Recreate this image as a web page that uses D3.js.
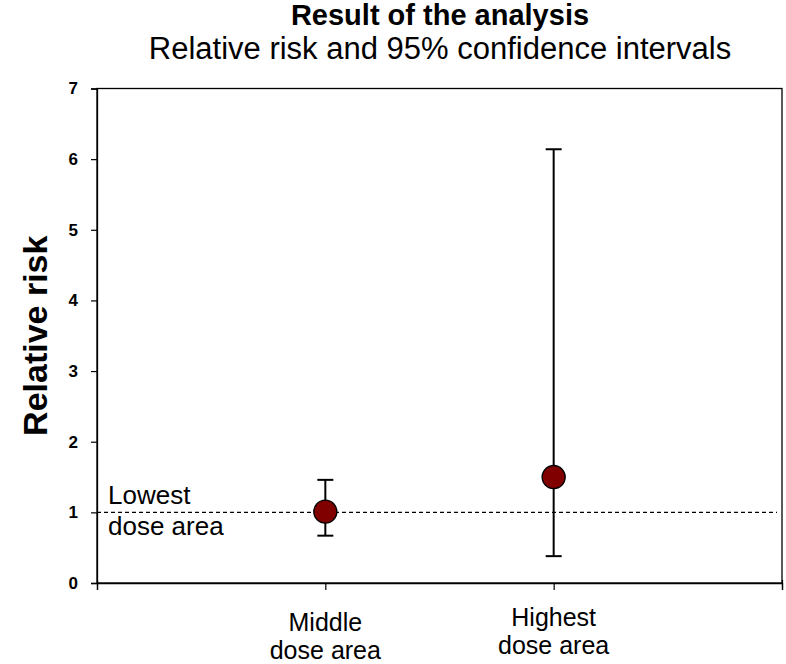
<!DOCTYPE html>
<html>
<head>
<meta charset="utf-8">
<script src="https://cdn.jsdelivr.net/npm/d3@7"></script>
<style>
  html, body { margin: 0; padding: 0; background: #fff; }
  svg { display: block; font-family: "Liberation Sans", Arial, sans-serif; }
</style>
</head>
<body>
<svg id="chart" width="786" height="664"></svg>
<script>
// ---- data ----
const categories = ["Middle dose area", "Highest dose area"];
const categoryLines = [["Middle", "dose area"], ["Highest", "dose area"]];
const categoryPos = [1, 2];
const relativeRisk = [1.01, 1.50];
const ciLower = [0.67, 0.38];
const ciUpper = [1.46, 6.14];
const yTicks = [0, 1, 2, 3, 4, 5, 6, 7];
const referenceValue = 1;
const referenceLabel = ["Lowest", "dose area"];
const titleText = "Result of the analysis";
const subtitleText = "Relative risk and 95% confidence intervals";
const yTitle = "Relative risk";

const svg = d3.select("#chart");
const W = 786, H = 664;
const m = { left: 97, right: 4, top: 88.5, bottom: 81 };
const FONT = "Liberation Sans, Arial, sans-serif";

const x = d3.scaleLinear().domain([0, 3]).range([m.left, W - m.right]);
const y = d3.scaleLinear().domain([0, 7]).range([H - m.bottom, m.top]);

// frame
svg.append("rect")
  .attr("x", x(0)).attr("y", y(7))
  .attr("width", x(3) - x(0)).attr("height", y(0) - y(7))
  .attr("fill", "none").attr("stroke", "#000").attr("stroke-width", 1.3);

// y axis
const yAxis = svg.append("g")
  .attr("transform", `translate(${x(0)},0)`)
  .call(d3.axisLeft(y).tickValues(yTicks).tickFormat(d3.format("d")).tickSize(6).tickPadding(13));
yAxis.select(".domain").attr("stroke-width", 1.3);
yAxis.selectAll(".tick line").attr("stroke-width", 1.2);
yAxis.selectAll("text").attr("font-size", 17).attr("font-weight", "bold")
  .attr("font-family", FONT).attr("fill", "#000");

// x axis
const xAxis = svg.append("g")
  .attr("transform", `translate(0,${y(0)})`)
  .call(d3.axisBottom(x).tickValues([0, 1, 2, 3]).tickFormat("").tickSize(7));
xAxis.select(".domain").attr("stroke-width", 1.3);
xAxis.selectAll(".tick line").attr("stroke-width", 1.2).attr("y1", d => (d === 0 || d === 3) ? -3 : 0);

// category labels (two-line, one text element each)
const catFirstBaseline = [631, 626];
categoryLines.forEach((lines, i) => {
  const t = svg.append("text")
    .attr("x", x(categoryPos[i])).attr("y", catFirstBaseline[i])
    .attr("text-anchor", "middle").attr("font-size", 25).attr("fill", "#000");
  lines.forEach((ln, j) => {
    t.append("tspan").attr("x", x(categoryPos[i])).attr("dy", j === 0 ? 0 : 28).text(ln);
  });
});

// reference dashed line
svg.append("line")
  .attr("x1", x(0)).attr("x2", x(3) - 5)
  .attr("y1", y(referenceValue)).attr("y2", y(referenceValue))
  .attr("stroke", "#000").attr("stroke-width", 1.1).attr("stroke-dasharray", "4,3");

const refT = svg.append("text").attr("x", 108).attr("y", y(referenceValue) - 8.5)
  .attr("font-size", 26).attr("fill", "#000");
refT.append("tspan").attr("x", 108).attr("dy", 0).text(referenceLabel[0]);
refT.append("tspan").attr("x", 108).attr("dy", 31).text(referenceLabel[1]);

// error bars
const cap = 8;
const g = svg.append("g");
categoryPos.forEach((p, i) => {
  const cx = x(p);
  g.append("line").attr("x1", cx).attr("x2", cx)
    .attr("y1", y(ciLower[i])).attr("y2", y(ciUpper[i]))
    .attr("stroke", "#000").attr("stroke-width", 2);
  [ciLower[i], ciUpper[i]].forEach(v => {
    g.append("line").attr("x1", cx - cap).attr("x2", cx + cap)
      .attr("y1", y(v)).attr("y2", y(v))
      .attr("stroke", "#000").attr("stroke-width", 2);
  });
});

// points
g.selectAll("circle").data(relativeRisk).join("circle")
  .attr("cx", (d, i) => x(categoryPos[i]))
  .attr("cy", d => y(d))
  .attr("r", 11.5)
  .attr("fill", "#800000").attr("stroke", "#000").attr("stroke-width", 1.4);

// titles
svg.append("text").attr("x", 440).attr("y", 25)
  .attr("text-anchor", "middle").attr("font-size", 29).attr("font-weight", "bold")
  .attr("fill", "#000").text(titleText);
svg.append("text").attr("x", 440).attr("y", 59)
  .attr("text-anchor", "middle").attr("font-size", 31)
  .attr("fill", "#000").text(subtitleText);

// y title
svg.append("text")
  .attr("transform", `translate(47,${(y(0) + y(7)) / 2}) rotate(-90)`)
  .attr("text-anchor", "middle").attr("font-size", 34).attr("font-weight", "bold")
  .attr("fill", "#000").text(yTitle);
</script>
</body>
</html>
